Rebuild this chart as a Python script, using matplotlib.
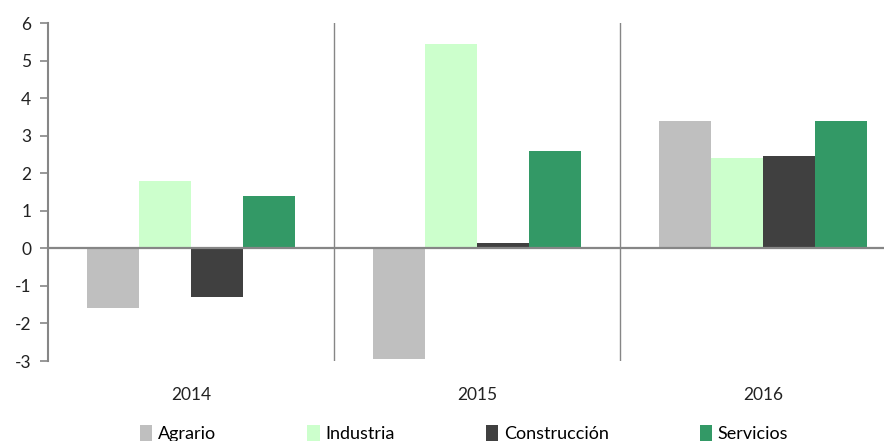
#!/usr/bin/env python3
"""Sector growth by year, grouped bars."""

import matplotlib

matplotlib.use("Agg")
import matplotlib.pyplot as plt
import numpy as np

years = ["2014", "2015", "2016"]
sectors = ["Agrario", "Industria", "Construcción", "Servicios"]
agrario = [-1.6, -2.95, 3.4]
industria = [1.8, 5.45, 2.4]
construccion = [-1.3, 0.15, 2.47]
servicios = [1.4, 2.6, 3.4]
yticks = [-3, -2, -1, 0, 1, 2, 3, 4, 5, 6]

COLORS = ["#BFBFBF", "#CCFFCC", "#404040", "#339966"]
AXIS = "#868686"
INK = "#222222"

plt.rcParams["font.family"] = ["Lato", "DejaVu Sans"]

fig = plt.figure(figsize=(8.88, 4.41), dpi=100)
ax = fig.add_axes([48 / 888, 1 - 361 / 441, 836 / 888, 338 / 441])

x = np.arange(len(years))
width = 0.182
series = [agrario, industria, construccion, servicios]
for i, (name, vals, col) in enumerate(zip(sectors, series, COLORS)):
    ax.bar(x + (i - 1.5) * width, vals, width=width, color=col, label=name, zorder=2)

ax.axhline(0, color=AXIS, linewidth=1.6, zorder=3)
for sep in [0.5, 1.5]:
    ax.axvline(sep, color=AXIS, linewidth=1.0, zorder=1)

ax.set_xlim(-0.5, 2.423)
ax.set_ylim(-3, 6)
ax.set_yticks(yticks)
ax.set_yticklabels([str(t) for t in yticks])
ax.set_xticks(x)
ax.set_xticklabels(years)

for side in ["top", "right", "bottom"]:
    ax.spines[side].set_visible(False)
ax.spines["left"].set_color(AXIS)
ax.spines["left"].set_linewidth(1.5)
ax.tick_params(axis="y", colors=AXIS, length=6, width=1.2, pad=6, labelsize=12.5, labelcolor=INK)
ax.tick_params(axis="x", length=0, pad=19, labelsize=12.5, labelcolor=INK)

fig.legend(
    loc="lower center",
    bbox_to_anchor=(0.5225, -0.04),
    ncol=4,
    frameon=False,
    fontsize=13,
    handlelength=0.7,
    handleheight=1.0,
    handletextpad=0.3,
    columnspacing=5.05,
)

fig.savefig("out.png", dpi=100)
